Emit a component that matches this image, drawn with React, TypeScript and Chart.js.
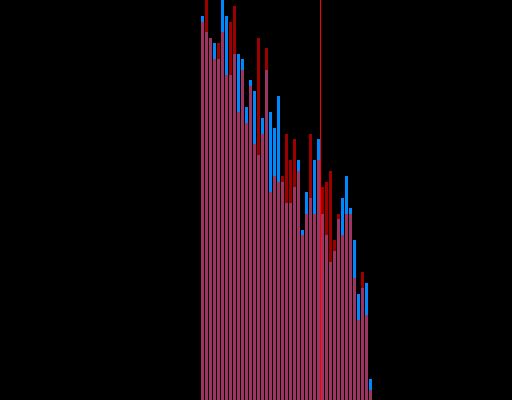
import React, { useEffect, useRef } from "react";
import { Chart, registerables } from "chart.js";

Chart.register(...registerables);

// Bin start values (each bin is 1 unit wide)
const BINS = [
  50, 51, 52, 53, 54, 55, 56, 57, 58, 59,
  60, 61, 62, 63, 64, 65, 66, 67, 68, 69,
  70, 71, 72, 73, 74, 75, 76, 77, 78, 79,
  80, 81, 82, 83, 84, 85, 86, 87, 88, 89,
  90, 91, 92,
];

// Series A (blue)
const SERIES_BLUE = [
  384, 368, 362, 357, 341, 405, 384, 325, 346, 346,
  341, 293, 320, 309, 245, 282, 330, 288, 272, 304,
  218, 197, 197, 213, 240, 170, 208, 202, 240, 261,
  186, 165, 138, 149, 181, 202, 224, 192, 160, 106,
  112, 117, 21,
];

// Series B (red, semi-transparent)
const SERIES_RED = [
  378, 410, 362, 341, 357, 368, 325, 378, 394, 288,
  330, 277, 314, 256, 362, 266, 352, 208, 224, 218,
  224, 266, 240, 261, 229, 165, 186, 266, 186, 240,
  213, 218, 229, 160, 186, 165, 186, 186, 122, 80,
  128, 85, 10,
];

const MEAN_X = 80;
const X_MIN = -0.125;
const X_MAX = 127.875;
const Y_MAX = 400;

export default function App() {
  const ref = useRef<HTMLCanvasElement | null>(null);

  useEffect(() => {
    if (!ref.current) return;
    const meanLine = {
      id: "meanLine",
      afterDatasetsDraw(chart: any) {
        const { ctx, chartArea, scales } = chart;
        const x = scales.x.getPixelForValue(MEAN_X);
        ctx.save();
        ctx.strokeStyle = "rgb(255,0,0)";
        ctx.lineWidth = 1;
        ctx.beginPath();
        ctx.moveTo(x, chartArea.top);
        ctx.lineTo(x, chartArea.bottom);
        ctx.stroke();
        ctx.restore();
      },
    };
    const common = {
      borderWidth: 0,
      inflateAmount: 0,
      grouped: false,
      barThickness: 3,
      categoryPercentage: 1,
      barPercentage: 1,
    };
    const chart = new Chart(ref.current, {
      type: "bar",
      data: {
        datasets: [
          {
            label: "B",
            data: BINS.map((b, i) => ({ x: b + 0.5, y: SERIES_RED[i] })),
            backgroundColor: "rgba(255,0,0,0.62)",
            ...common,
          } as any,
          {
            label: "A",
            data: BINS.map((b, i) => ({ x: b + 0.5, y: SERIES_BLUE[i] })),
            backgroundColor: "rgb(0,136,255)",
            ...common,
          } as any,
        ],
      },
      options: {
        animation: false,
        responsive: false,
        devicePixelRatio: 1,
        layout: { padding: 0 },
        plugins: { legend: { display: false }, tooltip: { enabled: false } },
        scales: {
          x: {
            type: "linear",
            display: false,
            offset: false,
            min: X_MIN,
            max: X_MAX,
            grid: { display: false },
          },
          y: {
            display: false,
            min: 0,
            max: Y_MAX,
            grid: { display: false },
          },
        },
      },
      plugins: [meanLine],
    });
    return () => chart.destroy();
  }, []);

  return (
    <div
      style={{
        position: "fixed",
        left: 0,
        top: 0,
        width: 512,
        height: 400,
        background: "#000",
        overflow: "hidden",
      }}
    >
      <canvas ref={ref} width={512} height={400} style={{ display: "block" }} />
    </div>
  );
}
